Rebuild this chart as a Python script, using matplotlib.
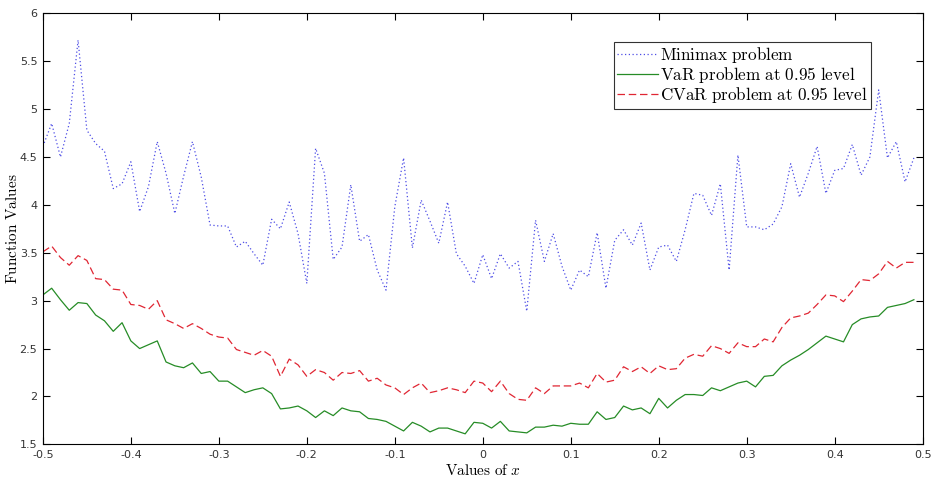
import numpy as np
import matplotlib
matplotlib.use("Agg")
import matplotlib.pyplot as plt

plt.rcParams["mathtext.fontset"] = "cm"

# x grid: -0.50 ... 0.49 in steps of 0.01
x_vals = np.round(np.arange(-0.5, 0.495, 0.01), 2)

minimax = [
    4.61, 4.85, 4.50, 4.85, 5.72, 4.78, 4.64, 4.56, 4.17, 4.22,
    4.45, 3.93, 4.19, 4.66, 4.33, 3.91, 4.30, 4.66, 4.29, 3.79,
    3.78, 3.78, 3.56, 3.62, 3.49, 3.37, 3.85, 3.75, 4.03, 3.70,
    3.18, 4.59, 4.33, 3.43, 3.56, 4.21, 3.62, 3.69, 3.32, 3.11,
    3.98, 4.49, 3.55, 4.05, 3.83, 3.60, 4.03, 3.49, 3.36, 3.18,
    3.48, 3.23, 3.49, 3.34, 3.41, 2.89, 3.84, 3.41, 3.70, 3.36,
    3.11, 3.32, 3.25, 3.71, 3.13, 3.63, 3.74, 3.58, 3.81, 3.32,
    3.56, 3.58, 3.41, 3.74, 4.12, 4.10, 3.89, 4.22, 3.32, 4.52,
    3.77, 3.77, 3.74, 3.80, 3.98, 4.43, 4.08, 4.33, 4.61, 4.12,
    4.36, 4.38, 4.63, 4.31, 4.50, 5.20, 4.49, 4.66, 4.24, 4.49,
]

var_095 = [
    3.06, 3.13, 3.01, 2.90, 2.98, 2.97, 2.85, 2.79, 2.68, 2.77,
    2.58, 2.50, 2.54, 2.58, 2.36, 2.32, 2.30, 2.35, 2.24, 2.26,
    2.16, 2.16, 2.10, 2.04, 2.07, 2.09, 2.03, 1.87, 1.88, 1.90,
    1.85, 1.78, 1.85, 1.80, 1.88, 1.85, 1.84, 1.77, 1.76, 1.74,
    1.69, 1.64, 1.73, 1.69, 1.63, 1.67, 1.67, 1.64, 1.61, 1.73,
    1.72, 1.67, 1.74, 1.64, 1.63, 1.62, 1.68, 1.68, 1.70, 1.69,
    1.72, 1.71, 1.71, 1.84, 1.76, 1.78, 1.90, 1.86, 1.88, 1.82,
    1.98, 1.88, 1.96, 2.02, 2.02, 2.01, 2.09, 2.06, 2.10, 2.14,
    2.16, 2.10, 2.21, 2.22, 2.32, 2.38, 2.43, 2.49, 2.56, 2.63,
    2.60, 2.57, 2.75, 2.81, 2.83, 2.84, 2.93, 2.95, 2.97, 3.01,
]

cvar_095 = [
    3.51, 3.57, 3.45, 3.37, 3.47, 3.42, 3.23, 3.22, 3.12, 3.11,
    2.96, 2.95, 2.91, 3.00, 2.80, 2.76, 2.71, 2.76, 2.71, 2.65,
    2.62, 2.61, 2.49, 2.46, 2.43, 2.48, 2.42, 2.21, 2.39, 2.33,
    2.21, 2.28, 2.25, 2.17, 2.25, 2.24, 2.27, 2.16, 2.19, 2.12,
    2.09, 2.02, 2.09, 2.14, 2.04, 2.06, 2.09, 2.07, 2.04, 2.16,
    2.14, 2.05, 2.16, 2.03, 1.97, 1.96, 2.09, 2.03, 2.11, 2.11,
    2.11, 2.14, 2.09, 2.24, 2.15, 2.17, 2.31, 2.26, 2.31, 2.24,
    2.32, 2.28, 2.29, 2.40, 2.44, 2.42, 2.53, 2.50, 2.45, 2.56,
    2.52, 2.52, 2.60, 2.57, 2.72, 2.82, 2.84, 2.87, 2.96, 3.06,
    3.05, 2.99, 3.10, 3.22, 3.21, 3.28, 3.41, 3.34, 3.40, 3.40,
]

labels = [
    r"$\mathrm{Minimax\ problem}$",
    r"$\mathrm{VaR\ problem\ at\ 0.95\ level}$",
    r"$\mathrm{CVaR\ problem\ at\ 0.95\ level}$",
]
x_ticks = [-0.5, -0.4, -0.3, -0.2, -0.1, 0, 0.1, 0.2, 0.3, 0.4, 0.5]
x_ticklabels = ["-0.5", "-0.4", "-0.3", "-0.2", "-0.1", "0", "0.1", "0.2", "0.3", "0.4", "0.5"]
y_ticks = [1.5, 2, 2.5, 3, 3.5, 4, 4.5, 5, 5.5, 6]
y_ticklabels = ["1.5", "2", "2.5", "3", "3.5", "4", "4.5", "5", "5.5", "6"]

fig = plt.figure(figsize=(9.32, 4.83), dpi=100)
ax = fig.add_axes([0.046, 0.080, 0.944, 0.8925])

ax.plot(x_vals, minimax, color=(0.3, 0.3, 0.9), ls=(0, (1, 2)), lw=0.9, label=labels[0])
ax.plot(x_vals, var_095, color=(0.15, 0.55, 0.15), ls="-", lw=0.9, label=labels[1])
ax.plot(x_vals, cvar_095, color=(0.88, 0.15, 0.2), ls=(0, (6, 3)), lw=0.9, label=labels[2])

ax.set_xlim(-0.5, 0.5)
ax.set_ylim(1.5, 6)
ax.set_xticks(x_ticks)
ax.set_xticklabels(x_ticklabels)
ax.set_yticks(y_ticks)
ax.set_yticklabels(y_ticklabels)
ax.tick_params(direction="in", length=5, width=0.8, top=True, right=True,
               labelsize=8, labelcolor="#333333", pad=4)
for s in ax.spines.values():
    s.set_linewidth(0.8)

ax.set_xlabel(r"$\mathrm{Values\ of}\ x$", fontsize=11, labelpad=2)
ax.set_ylabel(r"$\mathrm{Function\ Values}$", fontsize=11, labelpad=0)

leg = ax.legend(loc="upper left", bbox_to_anchor=(614 / 932, 1 - 42 / 483),
                bbox_transform=fig.transFigure, fontsize=12.3, frameon=True,
                fancybox=False, handlelength=2.4, handletextpad=0.1,
                borderpad=0.2, labelspacing=0.0, borderaxespad=0)
leg.get_frame().set_edgecolor("black")
leg.get_frame().set_linewidth(0.8)

fig.savefig("out.png", dpi=100)
